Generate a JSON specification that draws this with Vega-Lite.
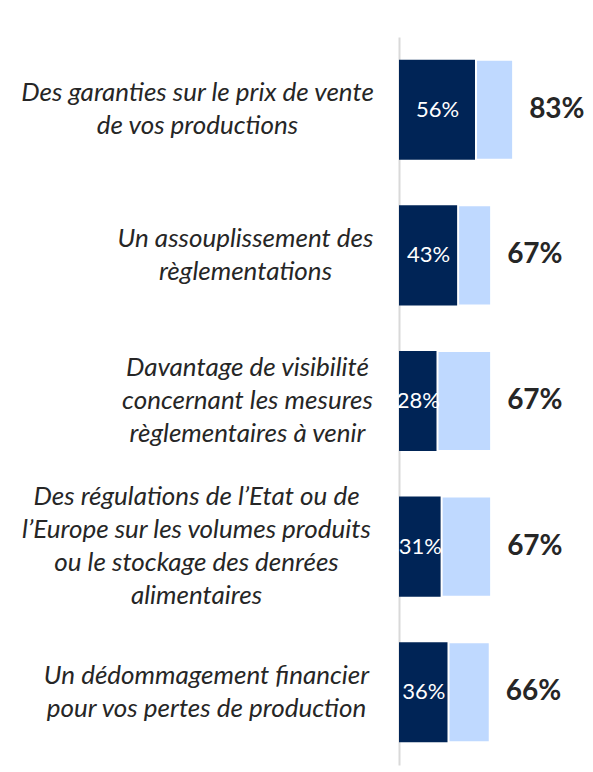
{
  "$schema": "https://vega.github.io/schema/vega-lite/v6.json",
  "width": 137.5,
  "height": 728,
  "autosize": {"type": "none"},
  "padding": {"left": 399, "top": 37, "right": 57, "bottom": 7},
  "background": "white",
  "config": {"view": {"stroke": null}, "font": "Lato"},
  "data": {
    "values": [
      {"item": "Des garanties sur le prix de vente|de vos productions", "dark": 0.56, "total": 0.83},
      {"item": "Un assouplissement des|règlementations", "dark": 0.43, "total": 0.67},
      {"item": "Davantage de visibilité|concernant les mesures|règlementaires à venir", "dark": 0.28, "total": 0.67},
      {"item": "Des régulations de l’Etat ou de|l’Europe sur les volumes produits|ou le stockage des denrées|alimentaires", "dark": 0.31, "total": 0.67},
      {"item": "Un dédommagement financier|pour vos pertes de production", "dark": 0.36, "total": 0.66}
    ]
  },
  "encoding": {
    "y": {
      "field": "item",
      "type": "nominal",
      "sort": null,
      "scale": {"paddingInner": 0.313, "paddingOuter": 0.156},
      "axis": {
        "title": null,
        "domain": true,
        "domainColor": "#d9d9d9",
        "domainWidth": 2,
        "ticks": false,
        "grid": false,
        "labelPadding": {
          "condition": [
            {"test": "indexof(datum.value,'Des garanties')==0", "value": 202},
            {"test": "indexof(datum.value,'Un assouplissement')==0", "value": 154},
            {"test": "indexof(datum.value,'Davantage')==0", "value": 152},
            {"test": "indexof(datum.value,'Des régulations')==0", "value": 203}
          ],
          "value": 193
        },
        "labelFont": "Lato",
        "labelFontStyle": "italic",
        "labelFontSize": 26,
        "labelColor": "#262626",
        "labelLineHeight": 33,
        "labelAlign": "center",
        "labelBaseline": "middle",
        "labelLimit": 400,
        "labelOffset": {
          "condition": [
            {"test": "length(split(datum.value,'|'))==4", "value": -49.5},
            {"test": "length(split(datum.value,'|'))==3", "value": -33}
          ],
          "value": -16.5
        },
        "labelExpr": "split(datum.value, '|')"
      }
    }
  },
  "resolve": {"scale": {"x": "independent"}},
  "layer": [
    {
      "mark": {"type": "bar", "color": "#002456"},
      "encoding": {
        "x": {"field": "dark", "type": "quantitative", "scale": {"domain": [0, 1], "nice": false}, "axis": null}
      }
    },
    {
      "mark": {"type": "bar", "color": "#bfd9ff", "stroke": "white", "strokeWidth": 2},
      "encoding": {
        "x": {"field": "dark", "type": "quantitative", "scale": {"domain": [0, 1], "nice": false}, "axis": null},
        "x2": {"field": "total"}
      }
    },
    {
      "mark": {"type": "text", "color": "white", "fontSize": 22, "align": "center", "baseline": "middle", "font": "Lato"},
      "encoding": {
        "x": {"field": "dark", "type": "quantitative", "scale": {"domain": [0, 2], "nice": false}, "axis": null},
        "text": {"field": "dark", "type": "quantitative", "format": ".0%"}
      }
    },
    {
      "mark": {"type": "text", "color": "#262626", "fontSize": 28, "fontWeight": "bold", "align": "left", "baseline": "middle", "dx": 16, "font": "Lato"},
      "encoding": {
        "x": {"field": "total", "type": "quantitative", "scale": {"domain": [0, 1], "nice": false}, "axis": null},
        "text": {"field": "total", "type": "quantitative", "format": ".0%"}
      }
    }
  ]
}
